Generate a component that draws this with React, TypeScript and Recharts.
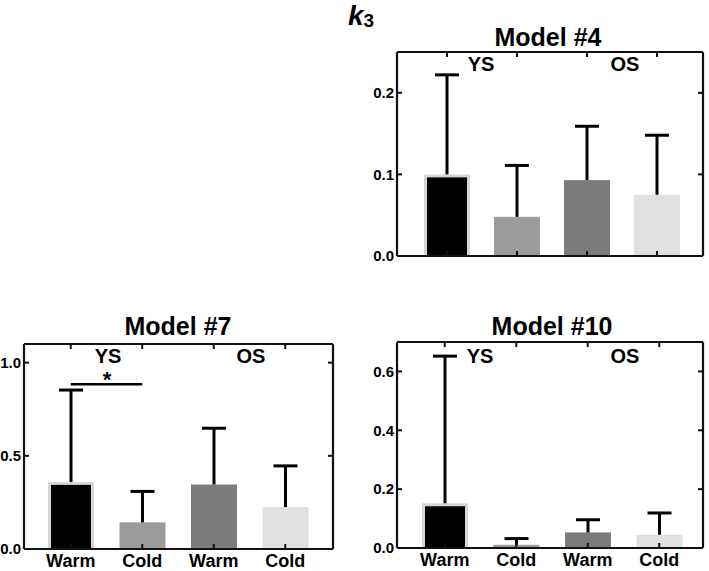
import React from 'react';
import { BarChart, Bar, XAxis, YAxis, ReferenceLine } from 'recharts';

const CATEGORIES = ['Warm YS', 'Cold YS', 'Warm OS', 'Cold OS'];

// model #4
const M4_MEAN = [0.1, 0.048, 0.093, 0.075];
const M4_UPPER = [0.222, 0.111, 0.159, 0.148];
const M4_TICKS = [0, 0.1, 0.2];

// model #7
const M7_MEAN = [0.36, 0.143, 0.346, 0.225];
const M7_UPPER = [0.853, 0.309, 0.648, 0.446];
const M7_TICKS = [0, 0.5, 1.0];
const M7_SIG = 0.884;

// model #10
const M10_MEAN = [0.152, 0.011, 0.053, 0.045];
const M10_UPPER = [0.652, 0.032, 0.096, 0.119];
const M10_TICKS = [0, 0.2, 0.4, 0.6];

const BAR_FILLS = ['#000000', '#9c9c9c', '#7b7b7b', '#e0e0e0'];
const FONT = '"Liberation Sans", Arial, sans-serif';
const AX = '#111';

const makeRows = (mean: number[], upper: number[]) =>
  CATEGORIES.map((name, i) => ({ name, mean: mean[i], span: upper[i] - mean[i] }));

const MeanShape = (props: any) => {
  const { x, y, width, height, payload } = props;
  const i = CATEGORIES.indexOf(payload.name);
  if (i === 0) {
    // black bar with light outline
    return (
      <g>
        <rect x={x} y={y} width={width} height={height} fill="#d6d6d6" />
        <rect x={x + 3} y={y + 3} width={width - 6} height={Math.max(height - 3, 0)} fill="#000" />
      </g>
    );
  }
  return <rect x={x} y={y} width={width} height={height} fill={BAR_FILLS[i]} />;
};

const ErrShape = (props: any) => {
  const { x, y, width, height } = props;
  const cx = x + width / 2;
  return (
    <g>
      <line x1={cx} x2={cx} y1={y + height} y2={y} stroke="#000" strokeWidth={3} />
      <line x1={cx - 12} x2={cx + 12} y1={y} y2={y} stroke="#000" strokeWidth={3} />
    </g>
  );
};

// tick marks only, no label
const NoLabel = () => <g />;

interface PanelProps {
  rows: { name: string; mean: number; span: number }[];
  domain: [number, number];
  ticks: number[];
  showX: boolean;
  pad: { left: number; right: number };
  left: number;
  top: number;
  width: number;
  height: number;
  margin: { top: number; right: number; bottom: number; left: number };
  yWidth: number;
  xHeight: number;
  sig?: number;
}

const Panel: React.FC<PanelProps> = (p) => {
  const tickStyle = { fill: '#000', fontSize: 15, fontWeight: 700, fontFamily: FONT };
  return (
    <div style={{ position: 'absolute', left: p.left, top: p.top, width: p.width, height: p.height }}>
      <BarChart width={p.width} height={p.height} data={p.rows} margin={p.margin} barSize={46}>
        <XAxis
          xAxisId="b"
          dataKey="name"
          orientation="bottom"
          height={p.xHeight}
          padding={p.pad}
          tickLine={false}
          tickSize={0}
          tickMargin={5}
          axisLine={{ stroke: AX, strokeWidth: 2.2 }}
          tick={p.showX ? { fill: '#000', fontSize: 18, fontWeight: 700, fontFamily: FONT } : false}
          tickFormatter={(v: string) => v.split(' ')[0]}
          interval={0}
        />
        <XAxis
          xAxisId="bm"
          dataKey="name"
          orientation="bottom"
          mirror
          padding={p.pad}
          tick={NoLabel}
          tickSize={5}
          tickLine={{ stroke: AX, strokeWidth: 2 }}
          axisLine={false}
          interval={0}
        />
        <XAxis
          xAxisId="t"
          dataKey="name"
          orientation="top"
          mirror
          padding={p.pad}
          tick={NoLabel}
          tickSize={5}
          tickLine={{ stroke: AX, strokeWidth: 2 }}
          axisLine={{ stroke: AX, strokeWidth: 2.2 }}
          interval={0}
        />
        <YAxis
          yAxisId="l"
          type="number"
          domain={p.domain}
          ticks={p.ticks}
          allowDataOverflow
          width={p.yWidth}
          tickLine={false}
          tickSize={0}
          tickMargin={3}
          axisLine={{ stroke: AX, strokeWidth: 2.2 }}
          tick={tickStyle}
          tickFormatter={(v: number) => v.toFixed(1)}
        />
        <YAxis
          yAxisId="lm"
          type="number"
          domain={p.domain}
          ticks={p.ticks}
          allowDataOverflow
          mirror
          tick={NoLabel}
          tickSize={5}
          tickLine={{ stroke: AX, strokeWidth: 2 }}
          axisLine={false}
        />
        <YAxis
          yAxisId="r"
          orientation="right"
          type="number"
          domain={p.domain}
          ticks={p.ticks}
          allowDataOverflow
          mirror
          tick={NoLabel}
          tickSize={5}
          tickLine={{ stroke: AX, strokeWidth: 2 }}
          axisLine={{ stroke: AX, strokeWidth: 2.2 }}
        />
        <Bar xAxisId="b" yAxisId="l" dataKey="mean" stackId="s" shape={MeanShape} isAnimationActive={false} />
        <Bar xAxisId="b" yAxisId="l" dataKey="span" stackId="s" shape={ErrShape} isAnimationActive={false} />
        {p.sig !== undefined && (
          <ReferenceLine
            xAxisId="b"
            yAxisId="l"
            segment={[{ x: 'Warm YS', y: p.sig }, { x: 'Cold YS', y: p.sig }]}
            stroke="#000"
            strokeWidth={2.5}
          />
        )}
      </BarChart>
    </div>
  );
};

const TXT = { fontFamily: FONT, fontWeight: 700, fill: '#000' } as const;

export default function App() {
  return (
    <div style={{ position: 'absolute', left: 0, top: 0, width: 709, height: 571, background: '#fff', overflow: 'hidden' }}>
      <Panel
        rows={makeRows(M4_MEAN, M4_UPPER)}
        domain={[0, 0.25]}
        ticks={M4_TICKS}
        showX={false}
        pad={{ left: 15, right: 11 }}
        left={340}
        top={0}
        width={369}
        height={300}
        margin={{ top: 52, right: 6, bottom: 14, left: 17 }}
        yWidth={40}
        xHeight={30}
      />
      <Panel
        rows={makeRows(M7_MEAN, M7_UPPER)}
        domain={[0, 1.1]}
        ticks={M7_TICKS}
        showX
        pad={{ left: 11, right: 12 }}
        left={0}
        top={320}
        width={360}
        height={251}
        margin={{ top: 24, right: 27, bottom: 0, left: 0 }}
        yWidth={24}
        xHeight={22}
        sig={M7_SIG}
      />
      <Panel
        rows={makeRows(M10_MEAN, M10_UPPER)}
        domain={[0, 0.7]}
        ticks={M10_TICKS}
        showX
        pad={{ left: 12, right: 8 }}
        left={360}
        top={320}
        width={349}
        height={251}
        margin={{ top: 22, right: 6, bottom: 0, left: 0 }}
        yWidth={37}
        xHeight={23}
      />
      <svg width={709} height={571} style={{ position: 'absolute', left: 0, top: 0, pointerEvents: 'none' }}>
        <text x={348} y={25} {...TXT} fontSize={28} fontStyle="italic">
          k<tspan fontSize={19} fontStyle="normal" dy={2}>3</tspan>
        </text>
        <text x={548} y={46} {...TXT} fontSize={25} textAnchor="middle">Model #4</text>
        <text x={178} y={335} {...TXT} fontSize={25} textAnchor="middle">Model #7</text>
        <text x={552} y={335} {...TXT} fontSize={25} textAnchor="middle">Model #10</text>
        <text x={481} y={71} {...TXT} fontSize={20} textAnchor="middle">YS</text>
        <text x={625} y={71} {...TXT} fontSize={20} textAnchor="middle">OS</text>
        <text x={108} y={363} {...TXT} fontSize={20} textAnchor="middle">YS</text>
        <text x={251} y={363} {...TXT} fontSize={20} textAnchor="middle">OS</text>
        <text x={480} y={363} {...TXT} fontSize={20} textAnchor="middle">YS</text>
        <text x={625} y={363} {...TXT} fontSize={20} textAnchor="middle">OS</text>
        <text x={107} y={387} {...TXT} fontSize={22} textAnchor="middle">*</text>
      </svg>
    </div>
  );
}
